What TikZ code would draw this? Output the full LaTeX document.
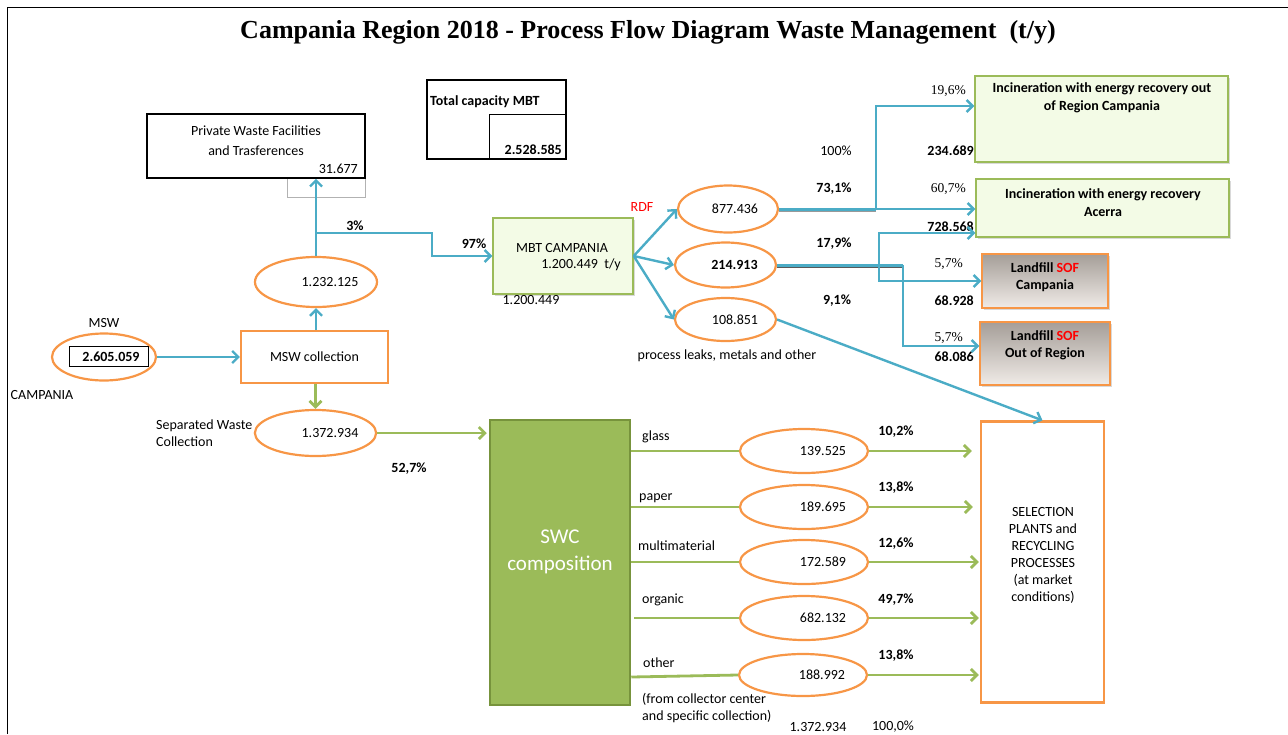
\documentclass[tikz,border=0pt]{standalone}
\usepackage{fontspec}
\setmainfont{Carlito}
\newfontfamily\serifnum{Liberation Serif}
\usepackage{tikz}
\usetikzlibrary{arrows.meta,shapes.geometric,shadows}

\definecolor{flowblue}{HTML}{4BACC6}
\definecolor{flowgreen}{HTML}{9BBB59}
\definecolor{swcedge}{HTML}{77933C}
\definecolor{wasteorange}{HTML}{F79646}
\definecolor{palegreen}{HTML}{F3FBE6}
\definecolor{lfgray}{HTML}{A59E98}
\definecolor{lflight}{HTML}{F0EBE7}
\definecolor{sofred}{HTML}{FF0000}

\newcommand{\sofmark}{\textcolor{sofred}{SOF}}

\begin{document}
\fontsize{14}{17}\selectfont
\begin{tikzpicture}[x=1pt,y=-1pt,
    >={Straight Barb[length=6pt,width=12pt]},
    flow/.style={draw=flowblue,line width=2.4pt},
    sepflow/.style={draw=flowgreen,line width=2.8pt},
    flowshade/.style={draw=black!40,line width=3pt},
    ell/.style={ellipse,draw=wasteorange,line width=2.2pt,inner sep=0pt},
    boxshadow/.style={drop shadow={opacity=0.3,shadow xshift=2pt,shadow yshift=-2pt}}]

    \useasboundingbox (0,0) rectangle (1288,734);
    \clip (0,0) rectangle (1288,734);

    % page frame and title
    \draw[line width=1pt] (7,734) -- (7,7) -- (1288,7);
    \node[font=\serifnum\bfseries\fontsize{26}{30}\selectfont] (title) at (648,32)
        {Campania Region 2018 - Process Flow Diagram Waste Management\ \ (t/y)};

    % boxes, use the tuple for location
    \begin{scope}[every node/.style={rectangle,inner sep=0pt}]
    \node[draw=black!30,line width=0.8pt,minimum width=78pt,minimum height=19pt] (privtab) at (326,187.5) {};
    \node[draw,fill=white,line width=1.6pt,minimum width=218pt,minimum height=64pt] (private) at (256,146) {};
    \node[draw,line width=1.6pt,minimum width=139pt,minimum height=79pt] (cap) at (496.5,119.5) {};
    \node[draw,line width=1pt,minimum width=77pt,minimum height=45pt] (capval) at (527.5,136.5) {};
    \node[draw=wasteorange,line width=2.2pt,minimum width=147pt,minimum height=52pt] (mswcoll) at (314.5,357) {MSW collection};
    \node[draw=flowgreen,fill=palegreen,line width=1.5pt,boxshadow,minimum width=140pt,minimum height=76pt] (mbt) at (563,256) {};
    \node[draw=swcedge,fill=flowgreen,line width=2.5pt,minimum width=140pt,minimum height=285pt] (swc) at (560,562.5) {};
    \node[draw=flowgreen,fill=palegreen,line width=1.5pt,boxshadow,minimum width=253pt,minimum height=86pt] (inc1) at (1101.5,119) {};
    \node[draw=flowgreen,fill=palegreen,line width=1.5pt,boxshadow,minimum width=253pt,minimum height=58pt] (inc2) at (1102.5,208) {};
    \node[draw=wasteorange,top color=lfgray,bottom color=lflight,line width=1.5pt,boxshadow,minimum width=126pt,minimum height=54pt] (lf1) at (1045,281) {};
    \node[draw=wasteorange,top color=lfgray,bottom color=lflight,line width=1.5pt,boxshadow,minimum width=130pt,minimum height=63pt] (lf2) at (1045,353.5) {};
    \node[draw=wasteorange,line width=2.2pt,minimum width=123pt,minimum height=281pt] (sel) at (1042.5,562) {};
    \end{scope}

    % ellipses
    \begin{scope}[every node/.style={ell}]
    \node[minimum width=104pt,minimum height=47pt] (msw) at (104,357) {};
    \node[minimum width=122pt,minimum height=50pt] (rest) at (316,282) {\hspace*{28pt}1.232.125};
    \node[minimum width=119pt,minimum height=46pt] (sep) at (315.5,433) {\hspace*{29pt}1.372.934};
    \node[minimum width=100pt,minimum height=47pt] (rdf) at (728,209) {\hspace*{14pt}877.436};
    \node[minimum width=101pt,minimum height=45pt,font=\bfseries] (sof) at (725.5,265) {\hspace*{18pt}214.913};
    \node[minimum width=101pt,minimum height=43pt] (leaks) at (725.5,319.5) {\hspace*{19pt}108.851};
    \node[minimum width=128pt,minimum height=44pt] (glass) at (804,451) {\hspace*{38pt}139.525};
    \node[minimum width=128pt,minimum height=44pt] (paper) at (804,507) {\hspace*{38pt}189.695};
    \node[minimum width=128pt,minimum height=44pt] (multi) at (804,562) {\hspace*{38pt}172.589};
    \node[minimum width=128pt,minimum height=44pt] (organic) at (804,618) {\hspace*{38pt}682.132};
    \node[minimum width=128pt,minimum height=42pt] (other) at (803,675) {\hspace*{38pt}188.992};
    \end{scope}
    \node[draw,line width=0.8pt,inner sep=0pt,minimum width=79pt,minimum height=20pt,font=\bfseries] (mswval) at (108.5,356.5) {\hspace*{5pt}2.605.059};

    % texts
    \begin{scope}[every node/.style={inner sep=0pt}]
    \node[align=center,font=\fontsize{14}{20}\selectfont] (privtxt) at (256,141) {Private Waste Facilities\\and Trasferences};
    \node[anchor=east] (privnum) at (358,169) {31.677};
    \node[anchor=west,font=\bfseries] (captxt) at (430,102) {Total capacity MBT};
    \node[anchor=east,font=\bfseries] (capnum) at (562,150) {2.528.585};
    \node (mswlbl) at (104,323) {MSW};
    \node (camplbl) at (42,395) {CAMPANIA};
    \node[anchor=west,align=left] (septxt) at (156,433.5) {Separated Waste\\Collection};
    \node[font=\bfseries] (pct527) at (409,469) {52,7\%};
    \node[font=\bfseries] (pct3) at (355,226) {3\%};
    \node[font=\bfseries] (pct97) at (474,244) {97\%};
    \node (mbttxt) at (562,248) {MBT CAMPANIA};
    \node (mbtnum) at (581,265) {1.200.449\ \ t/y};
    \node (mbtbelow) at (531,300) {1.200.449};
    \node[text=sofred] (rdflbl) at (642,207) {RDF};
    \node (leakstxt) at (727,356) {process leaks, metals and other};
    \node (pct100) at (836,151) {100\%};
    \node[font=\bfseries] (pct731) at (834,189) {73,1\%};
    \node[font=\bfseries] (pct179) at (834,244) {17,9\%};
    \node[font=\bfseries] (pct91) at (837,301) {9,1\%};
    \node[anchor=east,font=\serifnum\fontsize{13.5}{16}\selectfont] (pct196) at (966,91) {19,6\%};
    \node[anchor=east,font=\serifnum\fontsize{13.5}{16}\selectfont] (pct607) at (966,189) {60,7\%};
    \node[anchor=east,font=\serifnum\fontsize{13.5}{16}\selectfont] (pct57a) at (963,264) {5,7\%};
    \node[anchor=east,font=\serifnum\fontsize{13.5}{16}\selectfont] (pct57b) at (963,338) {5,7\%};
    \node[anchor=east,font=\bfseries] (num234) at (974,151) {234.689};
    \node[anchor=east,font=\bfseries] (num728) at (974,227) {728.568};
    \node[anchor=east,font=\bfseries] (num689) at (974,301) {68.928};
    \node[anchor=east,font=\bfseries] (num680) at (974,357) {68.086};
    \node[align=center,font=\bfseries\fontsize{14}{18}\selectfont] (inc1txt) at (1102,98) {Incineration with energy recovery out\\of Region Campania};
    \node[align=center,font=\bfseries\fontsize{14}{18}\selectfont] (inc2txt) at (1103,202.5) {Incineration with energy recovery\\Acerra};
    \node[align=center,font=\bfseries] (lf1txt) at (1045,277.5) {Landfill \sofmark\\Campania};
    \node[align=center,font=\bfseries] (lf2txt) at (1045,345.5) {Landfill \sofmark\\Out of Region};
    \node[align=center,text=white,font=\fontsize{21}{27}\selectfont] (swctxt) at (560,551.5) {SWC\\composition};
    \node[align=center] (seltxt) at (1043,555) {SELECTION\\PLANTS and\\RECYCLING\\PROCESSES\\(at market\\conditions)};
    \node[anchor=west] (glasslbl) at (642,437) {glass};
    \node[anchor=west] (paperlbl) at (639,498) {paper};
    \node[anchor=west] (multilbl) at (638,546) {multimaterial};
    \node[anchor=west] (organiclbl) at (642,600) {organic};
    \node[anchor=west] (otherlbl) at (643,663) {other};
    \node[anchor=west,align=left] (fromtxt) at (642,708) {(from collector center\\and specific collection)};
    \node[font=\bfseries] (pctglass) at (896,432) {10,2\%};
    \node[font=\bfseries] (pctpaper) at (896,488) {13,8\%};
    \node[font=\bfseries] (pctmulti) at (896,544) {12,6\%};
    \node[font=\bfseries] (pctorganic) at (896,600) {49,7\%};
    \node[font=\bfseries] (pctother) at (896,656) {13,8\%};
    \node (total) at (818,727) {1.372.934};
    \node (total100) at (893,727) {100,0\%};
    \end{scope}

    % joints of the flows
    \coordinate (split) at (316,233);
    \coordinate (jog) at (432,233);
    \coordinate (rdfsplit) at (876,209);
    \coordinate (sofsplit) at (879,265);
    \coordinate (softurn) at (903,265);

    % residual waste (blue)
    \draw[flow,->] (msw) -- (mswcoll);
    \draw[flow,->] (rest.south |- mswcoll.north) -- (rest.south);
    \draw[flow,->] (rest.north) -- (rest.north |- private.south);
    \draw[flow,->] (split) -- (jog) |- (mbt.west);
    \draw[flow,->] (mbt.east) -- (rdf.west);
    \draw[flow,->] (mbt.east) -- (sof.west);
    \draw[flow,->] (mbt.east) -- (leaks.west);
    \draw[flowshade] ([yshift=-1.5pt]rdf.east) -- ([yshift=-1.5pt]rdfsplit);
    \draw[flow,line width=3pt] (rdf.east) -- (rdfsplit);
    \draw[flow,->] (rdfsplit) |- ([yshift=13pt]inc1.west);
    \draw[flow,->] (rdfsplit) -- (rdfsplit -| inc2.west);
    \draw[flowshade,draw=black!65] ([yshift=-1.5pt]sof.east) -- ([yshift=-1.5pt]softurn);
    \draw[flow,line width=3pt] (sof.east) -- (softurn);
    \draw[flow,->] (sofsplit) |- ([yshift=-25pt]inc2.west);
    \draw[flow,->] (sofsplit) |- (lf1.west);
    \draw[flow,->] (softurn) |- ([yshift=7.5pt]lf2.west);
    \draw[flow,->] (leaks.east) -- (sel.north);

    % separated waste (green)
    \draw[sepflow,->] (sep.north |- mswcoll.south) -- (sep.north);
    \draw[sepflow,->,shorten >=2pt] (sep.east) -- (sep.east -| swc.west);
    \draw[sepflow] (glass.west -| swc.east) -- (glass.west);
    \draw[sepflow] (paper.west -| swc.east) -- (paper.west);
    \draw[sepflow] (multi.west -| swc.east) -- (multi.west);
    \draw[sepflow] ([xshift=3pt]organic.west -| swc.east) -- (organic.west);
    \draw[sepflow] ([yshift=-2pt]other.west -| swc.east) -- (other.west);
    \draw[sepflow,->,shorten >=8pt] (glass.east) -- (glass.east -| sel.west);
    \draw[sepflow,->,shorten >=7pt] (paper.east) -- (paper.east -| sel.west);
    \draw[sepflow,->,shorten >=1pt] (multi.east) -- (multi.east -| sel.west);
    \draw[sepflow,->,shorten >=1pt] (organic.east) -- (organic.east -| sel.west);
    \draw[sepflow,->,shorten >=1pt] (other.east) -- (other.east -| sel.west);

\end{tikzpicture}
\end{document}
